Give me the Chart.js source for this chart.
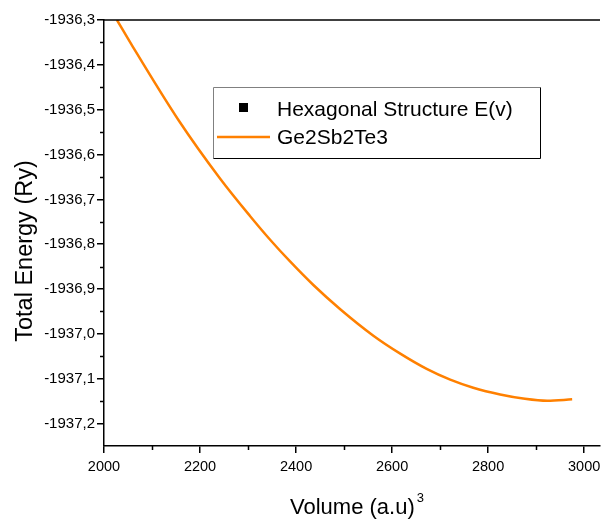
<!DOCTYPE html>
<html>
<head>
<meta charset="utf-8">
<script src="https://cdn.jsdelivr.net/npm/chart.js@4.4.1/dist/chart.umd.min.js"></script>
<style>
html,body{margin:0;padding:0;background:#fff;}
#wrap{width:601px;height:523px;position:relative;}
canvas{display:block;}
</style>
</head>
<body>
<div id="wrap"><canvas id="c" width="601" height="523"></canvas></div>
<script>
// ---- data ----
const volumes  = [2027, 2058, 2155, 2242, 2304, 2346, 2388, 2436, 2492, 2561, 2617, 2672, 2721, 2769, 2825, 2873, 2923, 2975];
const energies = [-1936.300, -1936.356, -1936.523, -1936.654, -1936.737, -1936.790, -1936.839, -1936.891, -1936.945,
                  -1937.004, -1937.044, -1937.078, -1937.102, -1937.120, -1937.135, -1937.144, -1937.149, -1937.146];
const seriesNames = ['Hexagonal Structure E(v)', 'Ge2Sb2Te3'];
const xTickValues = [2000, 2100, 2200, 2300, 2400, 2500, 2600, 2700, 2800, 2900, 3000];
const xTickLabels = ['2000', '', '2200', '', '2400', '', '2600', '', '2800', '', '3000'];
const yTickValues = [-1936.3, -1936.35, -1936.4, -1936.45, -1936.5, -1936.55, -1936.6, -1936.65, -1936.7, -1936.75,
                     -1936.8, -1936.85, -1936.9, -1936.95, -1937.0, -1937.05, -1937.1, -1937.15, -1937.2];
const yTickLabels = ['-1936,3', '', '-1936,4', '', '-1936,5', '', '-1936,6', '', '-1936,7', '',
                     '-1936,8', '', '-1936,9', '', '-1937,0', '', '-1937,1', '', '-1937,2'];
const xTitle = 'Volume (a.u)';
const xTitleSup = '3';
const yTitle = 'Total Energy (Ry)';

const FONT = "'Liberation Sans', Arial, sans-serif";
const ORANGE = '#ff8000';

const decor = {
  id: 'decor',
  afterDraw(chart) {
    const ctx = chart.ctx;
    const a = chart.chartArea;
    const xs = chart.scales.x, ys = chart.scales.y;
    ctx.save();
    ctx.strokeStyle = '#000';
    ctx.lineWidth = 1.5;
    // minor ticks
    ctx.beginPath();
    xTickValues.forEach((v, i) => {
      if (xTickLabels[i] === '') {
        const px = Math.round(xs.getPixelForValue(v)) + 0.5;
        ctx.moveTo(px, a.bottom); ctx.lineTo(px, a.bottom + 4);
      }
    });
    yTickValues.forEach((v, i) => {
      if (yTickLabels[i] === '') {
        const py = Math.round(ys.getPixelForValue(v)) + 0.5;
        ctx.moveTo(a.left - 4, py); ctx.lineTo(a.left, py);
      }
    });
    ctx.stroke();
    // top frame line
    ctx.beginPath();
    ctx.moveTo(a.left, a.top); ctx.lineTo(a.right, a.top);
    ctx.stroke();

    // axis titles
    ctx.fillStyle = '#000';
    ctx.font = '22px ' + FONT;
    ctx.textBaseline = 'alphabetic';
    ctx.textAlign = 'left';
    const mainW = ctx.measureText(xTitle).width;
    ctx.font = '13px ' + FONT;
    const supW = ctx.measureText(xTitleSup).width;
    const cx = (a.left + a.right) / 2 + 5;
    const x0 = cx - (mainW + 2 + supW) / 2;
    ctx.font = '22px ' + FONT;
    ctx.fillText(xTitle, x0, 514);
    ctx.font = '13px ' + FONT;
    ctx.fillText(xTitleSup, x0 + mainW + 2, 502);

    ctx.save();
    ctx.translate(32, (a.top + a.bottom) / 2 + 18);
    ctx.rotate(-Math.PI / 2);
    ctx.textAlign = 'center';
    ctx.font = '23.5px ' + FONT;
    ctx.fillText(yTitle, 0, 0);
    ctx.restore();

    // legend box
    const L = 213.5, T = 87.5, R = 540.5, B = 158.5;
    ctx.lineWidth = 1;
    ctx.strokeStyle = '#808080';
    ctx.beginPath();
    ctx.moveTo(L, B); ctx.lineTo(L, T); ctx.lineTo(R, T);
    ctx.stroke();
    ctx.strokeStyle = '#000';
    ctx.beginPath();
    ctx.moveTo(R, T); ctx.lineTo(R, B); ctx.lineTo(L, B);
    ctx.stroke();
    const ds = chart.data.datasets;
    ctx.fillStyle = ds[0].backgroundColor;
    ctx.fillRect(239, 103, 9, 9);
    ctx.strokeStyle = ds[1].borderColor;
    ctx.lineWidth = 2.5;
    ctx.beginPath();
    ctx.moveTo(217, 137); ctx.lineTo(270, 137);
    ctx.stroke();
    ctx.fillStyle = '#000';
    ctx.font = '21px ' + FONT;
    ctx.textAlign = 'left';
    ctx.fillText(ds[0].label, 277, 116);
    ctx.fillText(ds[1].label, 277, 144);
    ctx.restore();
  }
};

new Chart(document.getElementById('c'), {
  type: 'scatter',
  data: {
    datasets: [
      { label: seriesNames[0], data: [], pointStyle: 'rect', backgroundColor: '#000', borderColor: '#000' },
      {
        label: seriesNames[1],
        data: volumes.map((v, i) => ({ x: v, y: energies[i] })),
        showLine: true,
        borderColor: ORANGE,
        backgroundColor: ORANGE,
        borderWidth: 2.5,
        pointRadius: 0,
        cubicInterpolationMode: 'monotone'
      }
    ]
  },
  options: {
    responsive: false,
    animation: false,
    devicePixelRatio: 1,
    layout: { padding: { top: 20, right: 1, left: 0, bottom: 0 } },
    plugins: { legend: { display: false }, tooltip: { enabled: false } },
    scales: {
      x: {
        type: 'linear',
        min: 2000,
        max: 3033,
        afterBuildTicks: s => { s.ticks = xTickValues.map(v => ({ value: v })); },
        afterFit: s => { s.height = 77; s.paddingLeft = 0; s.paddingRight = 0; },
        ticks: {
          callback: (v, i) => xTickLabels[i],
          font: { family: FONT, size: 14.5 },
          color: '#000',
          padding: 5,
          maxRotation: 0,
          autoSkip: false
        },
        grid: {
          drawOnChartArea: false,
          tickLength: 7,
          lineWidth: 1.5,
          color: c => (xTickLabels[c.index] ? '#000' : 'rgba(0,0,0,0)')
        },
        border: { color: '#000', width: 1.5 }
      },
      y: {
        type: 'linear',
        min: -1937.25,
        max: -1936.3,
        afterBuildTicks: s => { s.ticks = yTickValues.map(v => ({ value: v })); },
        afterFit: s => { s.width = 104; s.paddingTop = 0; s.paddingBottom = 0; },
        ticks: {
          callback: (v, i) => yTickLabels[i],
          font: { family: FONT, size: 15 },
          color: '#000',
          padding: 2,
          autoSkip: false
        },
        grid: {
          drawOnChartArea: false,
          tickLength: 7,
          lineWidth: 1.5,
          color: c => (yTickLabels[c.index] ? '#000' : 'rgba(0,0,0,0)')
        },
        border: { color: '#000', width: 1.5 }
      }
    }
  },
  plugins: [decor]
});
</script>
</body>
</html>
